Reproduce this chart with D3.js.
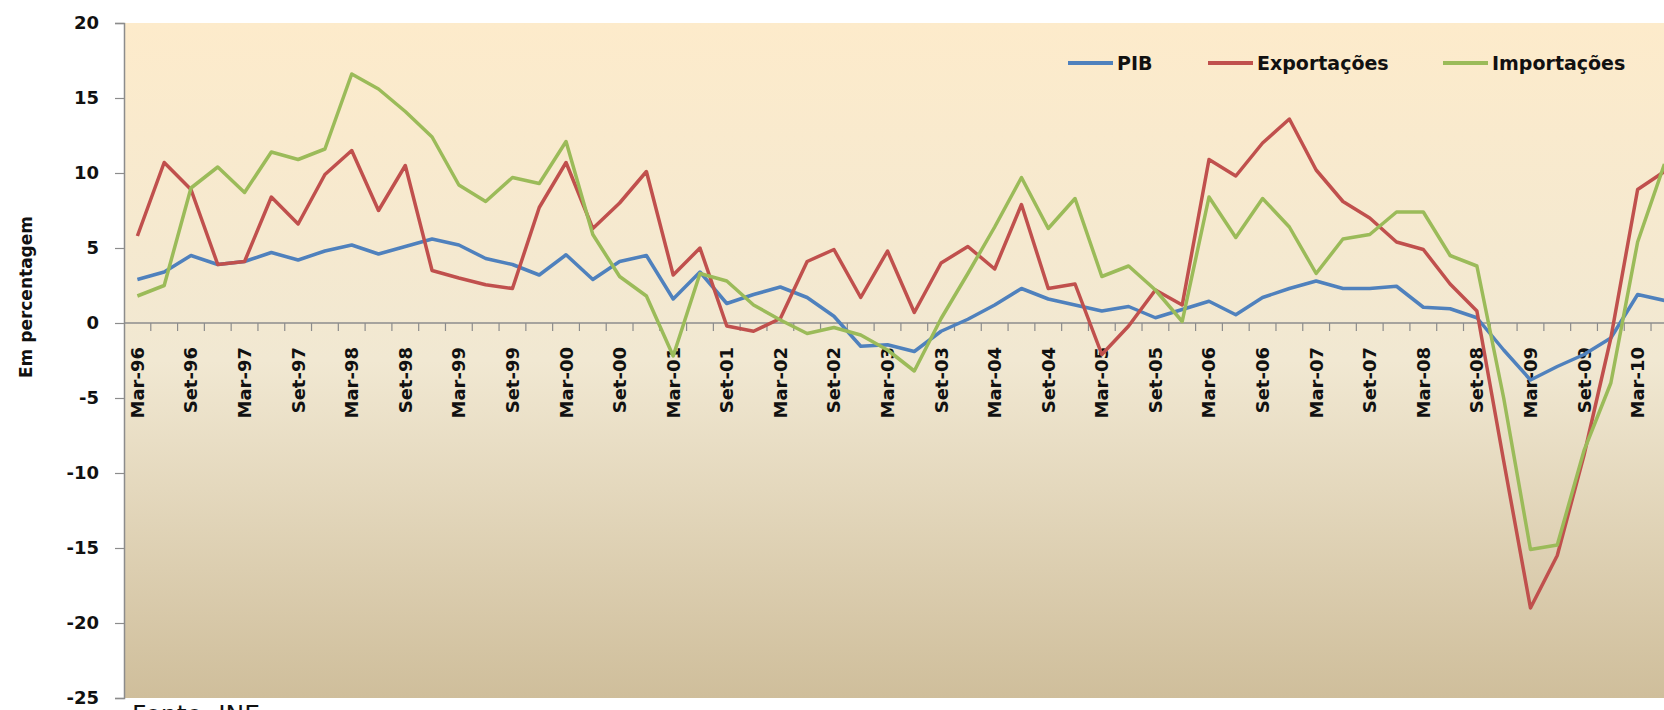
<!DOCTYPE html>
<html>
<head>
<meta charset="utf-8">
<script src="https://cdn.jsdelivr.net/npm/d3@7"></script>
<style>
  body { margin: 0; background: #fff; overflow: hidden; }
  svg { display: block; }
</style>
</head>
<body>
<script>
// quarters, Mar-96 .. Jun-10
const quarters = [
  "Mar-96", "Jun-96", "Set-96", "Dez-96", "Mar-97", "Jun-97", "Set-97", "Dez-97",
  "Mar-98", "Jun-98", "Set-98", "Dez-98", "Mar-99", "Jun-99", "Set-99", "Dez-99",
  "Mar-00", "Jun-00", "Set-00", "Dez-00", "Mar-01", "Jun-01", "Set-01", "Dez-01",
  "Mar-02", "Jun-02", "Set-02", "Dez-02", "Mar-03", "Jun-03", "Set-03", "Dez-03",
  "Mar-04", "Jun-04", "Set-04", "Dez-04", "Mar-05", "Jun-05", "Set-05", "Dez-05",
  "Mar-06", "Jun-06", "Set-06", "Dez-06", "Mar-07", "Jun-07", "Set-07", "Dez-07",
  "Mar-08", "Jun-08", "Set-08", "Dez-08", "Mar-09", "Jun-09", "Set-09", "Dez-09",
  "Mar-10", "Jun-10"
];

const pib = [
  2.9, 3.4, 4.5, 3.9, 4.1, 4.7, 4.2, 4.8,
  5.2, 4.6, 5.1, 5.6, 5.2, 4.3, 3.9, 3.2,
  4.55, 2.9, 4.1, 4.5, 1.6, 3.4, 1.3, 1.9,
  2.4, 1.7, 0.45, -1.55, -1.45, -1.9, -0.55, 0.25,
  1.2, 2.3, 1.6, 1.2, 0.8, 1.1, 0.35, 0.9,
  1.45, 0.55, 1.7, 2.3, 2.8, 2.3, 2.3, 2.45,
  1.05, 0.95, 0.35, -1.8, -3.8, -2.9, -2.1, -1.0,
  1.9, 1.5
];

const exportacoes = [
  5.8, 10.7, 8.9, 3.9, 4.1, 8.4, 6.6, 9.9,
  11.5, 7.5, 10.5, 3.5, 3.0, 2.55, 2.3, 7.7,
  10.7, 6.3, 8.0, 10.1, 3.2, 5.0, -0.2, -0.55,
  0.3, 4.1, 4.9, 1.7, 4.8, 0.7, 4.0, 5.1,
  3.6, 7.9, 2.3, 2.6, -2.1, -0.2, 2.2, 1.2,
  10.9, 9.8, 12.0, 13.6, 10.2, 8.1, 7.0, 5.4,
  4.9, 2.6, 0.8, -9.2, -19.0, -15.5, -8.8, -1.0,
  8.9, 10.1
];

const importacoes = [
  1.8, 2.5, 9.0, 10.4, 8.7, 11.4, 10.9, 11.6,
  16.6, 15.6, 14.1, 12.4, 9.2, 8.1, 9.7, 9.3,
  12.1, 5.9, 3.1, 1.8, -2.2, 3.3, 2.8, 1.2,
  0.2, -0.7, -0.3, -0.8, -1.8, -3.2, 0.3, 3.3,
  6.4, 9.7, 6.3, 8.3, 3.1, 3.8, 2.2, 0.1,
  8.4, 5.7, 8.3, 6.4, 3.3, 5.6, 5.9, 7.4,
  7.4, 4.5, 3.8, -5.0, -15.1, -14.8, -8.5, -4.0,
  5.4, 10.6
];

const seriesNames = ["PIB", "Exportações", "Importações"];
const seriesColors = ["#4f81bd", "#c0504d", "#9bbb59"];
const yTicks = [20, 15, 10, 5, 0, -5, -10, -15, -20, -25];

var width = 1664,
  height = 710,
  plotLeft = 124,
  plotTop = 23,
  plotBottom = 698,
  band = 26.79;

var svg = d3.select("body")
  .append("svg")
  .attr("width", width)
  .attr("height", height)
  .style("font-family", "'DejaVu Sans', Verdana, sans-serif");

var x = d3.scaleBand()
  .domain(quarters)
  .range([plotLeft, plotLeft + band * quarters.length]);

var y = d3.scaleLinear().domain([-25, 20]).range([plotBottom, plotTop]);

// background gradient of the plot area
var grad = svg.append("defs").append("linearGradient")
  .attr("id", "bg")
  .attr("x1", 0).attr("y1", 0).attr("x2", 0).attr("y2", 1);
grad.append("stop").attr("offset", "0%").attr("stop-color", "#fdebcb");
grad.append("stop").attr("offset", "50%").attr("stop-color", "#f1e8d2");
grad.append("stop").attr("offset", "100%").attr("stop-color", "#cfbe9b");

svg.append("rect")
  .attr("x", plotLeft)
  .attr("y", plotTop)
  .attr("width", x.range()[1] - plotLeft)
  .attr("height", plotBottom - plotTop)
  .attr("fill", "url(#bg)");

// y axis
var yAxis = svg.append("g")
  .attr("transform", `translate(${plotLeft},0)`)
  .call(d3.axisLeft(y).tickValues(yTicks).tickFormat(d => String(d)).tickSize(9).tickPadding(16));
yAxis.select(".domain").attr("stroke", "#8c8c8c").attr("stroke-width", 1.5);
yAxis.selectAll(".tick line").attr("stroke", "#8c8c8c").attr("stroke-width", 1.2);
yAxis.selectAll(".tick text")
  .attr("font-size", 18)
  .attr("font-weight", "bold")
  .attr("fill", "#111")
  .style("font-family", "'DejaVu Sans', Verdana, sans-serif");

// x axis on the zero line
var xAxis = svg.append("g").attr("transform", `translate(0,${y(0)})`);
xAxis.append("line")
  .attr("x1", plotLeft).attr("x2", x.range()[1])
  .attr("stroke", "#8c8c8c").attr("stroke-width", 1.5);
xAxis.selectAll("line.tk")
  .data(quarters)
  .join("line")
  .attr("class", "tk")
  .attr("x1", d => x(d) + band).attr("x2", d => x(d) + band)
  .attr("y1", 0).attr("y2", 8)
  .attr("stroke", "#8c8c8c").attr("stroke-width", 1.2);
xAxis.selectAll("text")
  .data(quarters.filter(d => d.startsWith("Mar") || d.startsWith("Set")))
  .join("text")
  .attr("transform", d => `translate(${x(d) + x.bandwidth() / 2},24) rotate(-90)`)
  .attr("dy", "0.36em")
  .attr("text-anchor", "end")
  .attr("font-size", 18)
  .attr("font-weight", "bold")
  .attr("fill", "#111")
  .text(d => d);

// lines
var line = d3.line()
  .x((d, i) => x(quarters[i]) + x.bandwidth() / 2)
  .y(d => y(d));

svg.selectAll("path.serie")
  .data([pib, exportacoes, importacoes])
  .join("path")
  .attr("class", "serie")
  .attr("fill", "none")
  .attr("stroke", (d, i) => seriesColors[i])
  .attr("stroke-width", 3.5)
  .attr("stroke-linejoin", "round")
  .attr("d", line);

// legend
var legendX = [1068, 1208, 1443];
var legend = svg.selectAll("g.leg")
  .data(seriesNames)
  .join("g")
  .attr("class", "leg")
  .attr("transform", (d, i) => `translate(${legendX[i]},63)`);
legend.append("line")
  .attr("x1", 0).attr("x2", 45)
  .attr("stroke", (d, i) => seriesColors[i])
  .attr("stroke-width", 4);
legend.append("text")
  .attr("x", 49)
  .attr("dy", "0.36em")
  .attr("font-size", 19)
  .attr("font-weight", "bold")
  .attr("fill", "#111")
  .text(d => d);

// y axis title
svg.append("text")
  .attr("transform", "translate(32,297) rotate(-90)")
  .attr("text-anchor", "middle")
  .attr("font-size", 17)
  .attr("font-weight", "bold")
  .attr("fill", "#111")
  .text("Em percentagem");

// source, cut by the bottom edge
svg.append("text")
  .attr("x", 132)
  .attr("y", 723)
  .attr("font-size", 25)
  .attr("fill", "#111")
  .text("Fonte: INE");
</script>
</body>
</html>
